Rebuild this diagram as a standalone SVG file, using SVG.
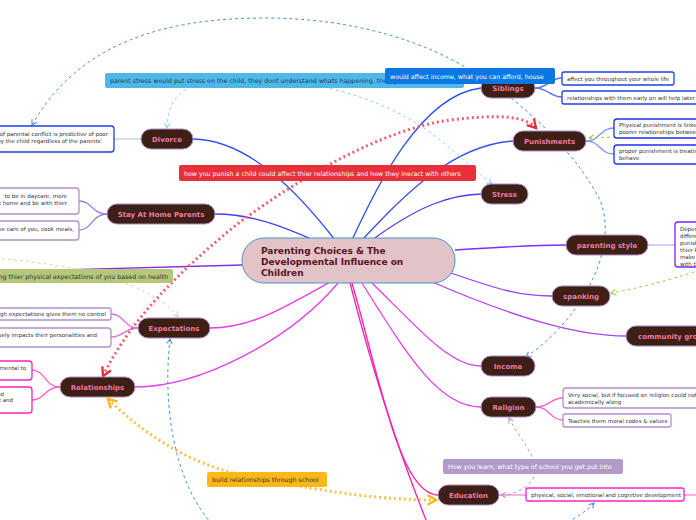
<svg xmlns="http://www.w3.org/2000/svg" width="696" height="520" viewBox="0 0 696 520">
<defs>
<style>
.node rect{fill:#3d1f16;stroke:#a98cc4;stroke-width:1}
.node text{font-family:"DejaVu Sans",Verdana,sans-serif;font-weight:bold;font-size:7px;fill:#ec7aa2;text-anchor:middle}
.box rect{fill:#fff;stroke-width:1.3}
.box text{font-family:"DejaVu Sans",Verdana,sans-serif;font-size:5.5px;fill:#333}
.lbl text{font-family:"DejaVu Sans",Verdana,sans-serif;font-size:6.3px}
.c{fill:none;stroke-width:1.3}
.d{fill:none}
</style>
<marker id="aBlue" viewBox="0 0 10 10" refX="8" refY="5" markerWidth="7" markerHeight="7" orient="auto-start-reverse"><path d="M1,1 L8,5 L1,9" fill="none" stroke="#4a90e2" stroke-width="1.5"/></marker>
<marker id="aLBlue" viewBox="0 0 10 10" refX="8" refY="5" markerWidth="7" markerHeight="7" orient="auto-start-reverse"><path d="M1,1 L8,5 L1,9" fill="none" stroke="#8fd0f0" stroke-width="1.5"/></marker>
<marker id="aRed" viewBox="0 0 10 10" refX="8" refY="5" markerWidth="4" markerHeight="4" orient="auto-start-reverse"><path d="M1,1 L8,5 L1,9" fill="none" stroke="#e8303a" stroke-width="2"/></marker>
<marker id="aYel" viewBox="0 0 10 10" refX="8" refY="5" markerWidth="4" markerHeight="4" orient="auto-start-reverse"><path d="M1,1 L8,5 L1,9" fill="none" stroke="#fbb818" stroke-width="2"/></marker>
<marker id="aLav" viewBox="0 0 10 10" refX="8" refY="5" markerWidth="7" markerHeight="7" orient="auto-start-reverse"><path d="M1,1 L8,5 L1,9" fill="none" stroke="#b39ac8" stroke-width="1.5"/></marker>
<marker id="aGrn" viewBox="0 0 10 10" refX="8" refY="5" markerWidth="7" markerHeight="7" orient="auto-start-reverse"><path d="M1,1 L8,5 L1,9" fill="none" stroke="#a0c850" stroke-width="1.5"/></marker>
<marker id="aBeige" viewBox="0 0 10 10" refX="8" refY="5" markerWidth="7" markerHeight="7" orient="auto-start-reverse"><path d="M1,1 L8,5 L1,9" fill="none" stroke="#d4d8a0" stroke-width="1.5"/></marker>
</defs>
<rect width="696" height="520" fill="#fff"/>

<g id="connectors">
<path class="c" stroke="#2f4df5" d="M352,240 C375,190 420,95 481,88"/>
<path class="c" stroke="#3550f0" d="M362,240 C400,200 450,145 513,141"/>
<path class="c" stroke="#4a3cf0" d="M372,240 C420,205 450,195 481,194"/>
<path class="c" stroke="#2f4df5" d="M335,240 C300,195 250,140 193,139"/>
<path class="c" stroke="#4a3cf0" d="M318,242 C280,225 250,214 215,214"/>
<path class="c" stroke="#8a2be2" d="M242,265 C150,268 60,270 -10,272"/>
<path class="c" stroke="#7b2fff" d="M455,250 C500,247 530,245 566,245"/>
<path class="c" stroke="#9a3cf0" d="M448,272 C500,290 520,296 552,296"/>
<path class="c" stroke="#b040f0" d="M430,281 C520,320 580,336 626,336"/>
<path class="c" stroke="#e040e0" d="M372,283 C420,330 450,366 481,366"/>
<path class="c" stroke="#e83ce8" d="M362,283 C410,360 440,407 481,407"/>
<path class="c" stroke="#ff20b0" d="M352,283 C380,380 400,495 438,495"/>
<path class="c" stroke="#ff20b0" d="M350,283 C380,400 410,480 428,525"/>
<path class="c" stroke="#e83ce8" d="M330,282 C280,310 250,328 210,328"/>
<path class="c" stroke="#e83ce8" d="M338,283 C290,340 200,387 135,387"/>
<path class="c" stroke="#6070f0" stroke-width="0.8" d="M535,88 C548,88 550,78 562,78"/>
<path class="c" stroke="#6070f0" stroke-width="0.8" d="M535,88 C548,88 550,97 562,97"/>
<path class="c" stroke="#8090f0" stroke-width="0.8" d="M586,141 C600,141 600,128 614,128"/>
<path class="c" stroke="#8090f0" stroke-width="0.8" d="M586,141 C600,141 600,154 614,154"/>
<path class="c" stroke="#c0b0f8" stroke-width="2" d="M648,245 L675,245"/>
<path class="c" stroke="#c0c8f4" stroke-width="2" d="M141,139 L114,139"/>
<path class="c" stroke="#9a80e0" stroke-width="0.8" d="M107,214 C92,214 92,201 79,201"/>
<path class="c" stroke="#9a80e0" stroke-width="0.8" d="M107,214 C92,214 92,230 79,230"/>
<path class="c" stroke="#e070e0" stroke-width="0.8" d="M138,328 C124,328 124,314 111,314"/>
<path class="c" stroke="#e070e0" stroke-width="0.8" d="M138,328 C124,328 124,337 111,337"/>
<path class="c" stroke="#ff60d0" stroke-width="0.8" d="M60,387 C45,387 45,370 32,370"/>
<path class="c" stroke="#ff60d0" stroke-width="0.8" d="M60,387 C45,387 45,400 32,400"/>
<path class="c" stroke="#ff60d0" stroke-width="0.8" d="M536,407 C550,407 550,398 563,398"/>
<path class="c" stroke="#ff60d0" stroke-width="0.8" d="M536,407 C550,407 550,420 563,420"/>
<path class="c" stroke="#ff80d8" stroke-width="1" d="M499,495 L526,495"/>
<path class="c" stroke="#ff80d8" stroke-width="1" d="M684,495 L700,495"/>
<path class="d" stroke="#4a90e2" stroke-width="1" stroke-dasharray="3,3" marker-start="url(#aBlue)" marker-end="url(#aBlue)" d="M32,125 C80,40 170,18 265,18 C360,18 430,45 470,70 C530,105 580,160 600,200 C620,250 580,320 526,357"/>
<path class="d" stroke="#8fd0f0" stroke-width="1" stroke-dasharray="3,3" marker-start="url(#aLBlue)" marker-end="url(#aLBlue)" d="M167,128 C168,105 175,92 200,82 C280,70 380,90 440,140 C465,160 480,175 492,184"/>
<path class="d" stroke="#ee6070" stroke-width="3" stroke-dasharray="2,3" marker-start="url(#aRed)" marker-end="url(#aRed)" d="M103,376 C130,320 180,270 240,222 C300,178 380,130 450,120 C500,114 525,116 536,128"/>
<path class="d" stroke="#fbc040" stroke-width="3" stroke-dasharray="2,3" marker-start="url(#aYel)" marker-end="url(#aYel)" d="M108,399 C150,440 200,470 265,480 C330,492 380,500 436,500"/>
<path class="d" stroke="#4a90e2" stroke-width="1" stroke-dasharray="3,3" marker-start="url(#aBlue)" marker-end="url(#aBlue)" d="M170,339 C160,430 185,510 230,540 C330,580 540,560 594,503"/>
<path class="d" stroke="#b39ac8" stroke-width="1" stroke-dasharray="3,3" marker-start="url(#aLav)" marker-end="url(#aLav)" d="M509,418 C520,440 540,460 535,474 C530,488 515,495 501,495"/>
<path class="d" stroke="#a0c850" stroke-width="1" stroke-dasharray="3,3" marker-end="url(#aGrn)" d="M700,270 C670,280 640,288 611,293"/>
<path class="d" stroke="#a0c850" stroke-width="1" stroke-dasharray="3,3" marker-end="url(#aGrn)" d="M700,132 C660,134 620,137 589,138"/>
<path class="d" stroke="#d4d8a0" stroke-width="1" stroke-dasharray="3,3" marker-end="url(#aBeige)" d="M-10,258 C60,262 150,280 178,317"/>
</g>

<g id="center">
<rect x="242" y="238" width="213" height="45" rx="22" fill="#e2c4c8" stroke="#4a90d0" stroke-width="1"/>
<text font-family="DejaVu Sans,Verdana,sans-serif" font-weight="bold" font-size="9" fill="#5a1020"><tspan x="261" y="254">Parenting Choices &amp; The</tspan><tspan x="261" y="265">Developmental Influence on</tspan><tspan x="261" y="276">Children</tspan></text>
</g>

<g id="siblings" class="node"><rect x="481" y="78" width="54" height="20" rx="10"/><text x="508" y="91">Siblings</text></g>
<g id="punishments" class="node"><rect x="513" y="131" width="73" height="20" rx="10"/><text x="549.5" y="144">Punishments</text></g>
<g id="stress" class="node"><rect x="481" y="184" width="47" height="20" rx="10"/><text x="504.5" y="197">Stress</text></g>
<g id="parenting-style" class="node"><rect x="566" y="235" width="82" height="20" rx="10"/><text x="607" y="248">parenting style</text></g>
<g id="spanking" class="node"><rect x="552" y="286" width="58" height="20" rx="10"/><text x="581" y="299">spanking</text></g>
<g id="community" class="node"><rect x="626" y="326" width="100" height="20" rx="10"/><text x="638" y="339" style="text-anchor:start">community groups</text></g>
<g id="income" class="node"><rect x="481" y="356" width="54" height="20" rx="10"/><text x="508" y="369">Income</text></g>
<g id="religion" class="node"><rect x="481" y="397" width="55" height="20" rx="10"/><text x="508.5" y="410">Religion</text></g>
<g id="education" class="node"><rect x="438" y="485" width="61" height="20" rx="10"/><text x="468.5" y="498">Education</text></g>
<g id="divorce" class="node"><rect x="141" y="129" width="52" height="20" rx="10"/><text x="167" y="142">Divorce</text></g>
<g id="stay-at-home" class="node"><rect x="107" y="204" width="108" height="20" rx="10"/><text x="161" y="217">Stay At Home Parents</text></g>
<g id="expectations" class="node"><rect x="138" y="318" width="72" height="20" rx="10"/><text x="174" y="331">Expectations</text></g>
<g id="relationships" class="node"><rect x="60" y="377" width="75" height="20" rx="10"/><text x="97.5" y="390">Relationships</text></g>

<g id="sib-c1" class="box"><rect x="562" y="72" width="112" height="13" rx="2" stroke="#2040e0"/><text x="567" y="80.5">affect you throughout your whole life</text></g>
<g id="sib-c2" class="box"><rect x="562" y="91" width="140" height="13" rx="2" stroke="#2040e0"/><text x="567" y="99.5">relationships with them early on will help later</text></g>
<g id="pun-c1" class="box"><rect x="614" y="119" width="90" height="19" rx="3" stroke="#1a30f0" stroke-width="1.8"/><text x="619" y="127">Physical punishment is linked</text><text x="619" y="134">poorer relationships between</text></g>
<g id="pun-c2" class="box"><rect x="614" y="145" width="90" height="19" rx="3" stroke="#1a30f0" stroke-width="1.8"/><text x="619" y="153">proper punishment is treating</text><text x="619" y="160">behave</text></g>
<g id="ps-c1" class="box"><rect x="675" y="222" width="40" height="45" rx="3" stroke="#8020ff" stroke-width="1.6"/><text x="680" y="231">Depending</text><text x="680" y="238">different</text><text x="680" y="245">punishment</text><text x="680" y="252">thier kids</text><text x="680" y="259">make</text><text x="680" y="266">with them</text></g>
<g id="div-c1" class="box"><rect x="-10" y="126" width="124" height="26" rx="3" stroke="#1a40e0" stroke-width="1.6"/><text x="108" y="136" text-anchor="end">levels of parental conflict is predictive of poor</text><text x="102" y="143" text-anchor="end">by the child regardless of the parents'</text></g>
<g id="sah-c1" class="box"><rect x="-10" y="188" width="89" height="26" rx="3" stroke="#b090d0"/><text x="67" y="198" text-anchor="end">to be in daycare, more</text><text x="67" y="205" text-anchor="end">at home and be with thier</text></g>
<g id="sah-c2" class="box"><rect x="-10" y="221" width="89" height="19" rx="3" stroke="#b090d0"/><text x="74" y="231" text-anchor="end">take care of you, cook meals,</text></g>
<g id="exp-c1" class="box"><rect x="-10" y="308" width="121" height="12" rx="2" stroke="#b090d0"/><text x="106" y="316" text-anchor="end">high expectations gives them no control</text></g>
<g id="exp-c2" class="box"><rect x="-10" y="328" width="121" height="19" rx="3" stroke="#b090d0"/><text x="97" y="337" text-anchor="end">negatively impacts their personalities and</text></g>
<g id="rel-c1" class="box"><rect x="-10" y="361" width="42" height="19" rx="3" stroke="#ff20c8" stroke-width="1.6"/><text x="26" y="370" text-anchor="end">detrimental to</text></g>
<g id="rel-c2" class="box"><rect x="-10" y="387" width="42" height="26" rx="3" stroke="#ff20c8" stroke-width="1.6"/><text x="4" y="396" text-anchor="end">and</text><text x="13" y="402" text-anchor="end">trust and</text></g>
<g id="rel-c3" class="box"><rect x="563" y="388" width="150" height="20" rx="3" stroke="#b090d0"/><text x="568" y="397">Very social, but if focused on religion could not</text><text x="568" y="404">academically along</text></g>
<g id="rel-c4" class="box"><rect x="563" y="414" width="108" height="13" rx="2" stroke="#b090d0"/><text x="568" y="422.5">Teaches them moral codes &amp; values</text></g>
<g id="edu-c1" class="box"><rect x="526" y="488" width="158" height="13" rx="2" stroke="#ff20c8" stroke-width="1.6"/><text x="531" y="497">physical, social, emotional and cognitive development</text></g>

<g id="lbl-stress" class="lbl"><rect x="105" y="73" width="359" height="15" rx="2" fill="#4fb8e8"/><text x="110" y="83" fill="#1a4060">parent stress would put stress on the child, they dont understand whats happening, they get stressed</text></g>
<g id="lbl-income" class="lbl"><rect x="385" y="68" width="170" height="16" rx="2" fill="#0a78e0"/><text x="390" y="78.5" fill="#fff">would affect income, what you can afford, house</text></g>
<g id="lbl-punish" class="lbl"><rect x="179" y="165" width="297" height="16" rx="2" fill="#e8303a"/><text x="184" y="175.5" fill="#fff">how you punish a child could affect thier relationships and how they ineract with others</text></g>
<g id="lbl-health" class="lbl"><rect x="-10" y="269" width="183" height="14" rx="2" fill="#b5c77a"/><text x="168" y="278.5" fill="#333" text-anchor="end">stop meeting thier physical expectations of you based on health</text></g>
<g id="lbl-learn" class="lbl"><rect x="443" y="459" width="180" height="15" rx="2" fill="#b39ac8"/><text x="448" y="469" fill="#fff">How you learn, what type of school you get put into</text></g>
<g id="lbl-school" class="lbl"><rect x="207" y="472" width="120" height="15" rx="2" fill="#fbb818"/><text x="212" y="482" fill="#333">build relationships through school</text></g>
</svg>
